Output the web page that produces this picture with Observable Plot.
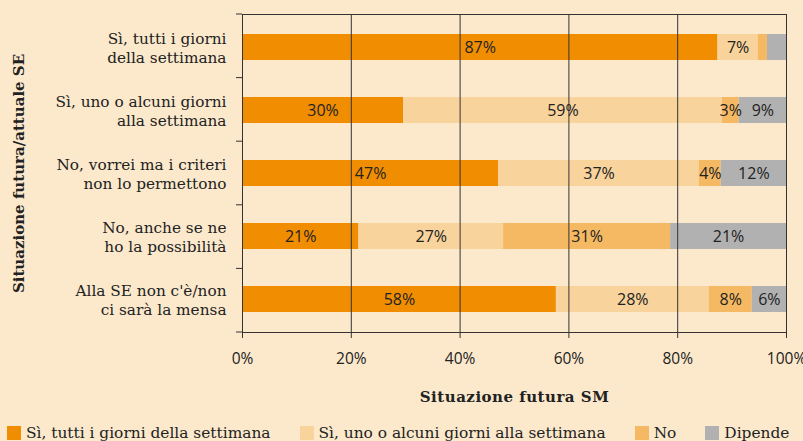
<!DOCTYPE html>
<html><head><meta charset="utf-8">
<script src="https://cdn.jsdelivr.net/npm/d3@7"></script>
<script src="https://cdn.jsdelivr.net/npm/@observablehq/plot@0.6"></script>
<style>
body{margin:0;background:#fce9cc;width:803px;height:441px;overflow:hidden}
#chart svg{display:block;overflow:visible}
#chart svg [aria-label="x-axis label"] text{font-family:"DejaVu Serif";font-weight:bold;font-size:15px;letter-spacing:0.5px}
#chart svg [aria-label="y-axis label"] text{font-family:"DejaVu Serif";font-weight:bold;font-size:15px}
.legend{display:flex;gap:29px;padding-left:7px;padding-top:6px;font-family:"DejaVu Serif";font-size:15.4px;color:#222;line-height:14px}
.legend .it{display:flex;align-items:center;gap:5px;white-space:nowrap}
.legend .sw{width:14px;height:14px;display:inline-block}
</style></head><body><div id="chart"></div><div class="legend" id="legend"></div>
<script>
const categories = [
  "Sì, tutti i giorni\ndella settimana",
  "Sì, uno o alcuni giorni\nalla settimana",
  "No, vorrei ma i criteri\nnon lo permettono",
  "No, anche se ne\nho la possibilità",
  "Alla SE non c'è/non\nci sarà la mensa"
];
const series = ["Sì, tutti i giorni della settimana", "Sì, uno o alcuni giorni alla settimana", "No", "Dipende"];
const colors = ["#f18d00", "#f8d39b", "#f6b963", "#b1b1b1"];
const tutti   = [87.4, 29.6, 47.1, 21.4, 57.7];
const alcuni  = [7.4, 58.6, 36.9, 26.6, 28.1];
const no      = [1.7, 3.1, 4.0, 30.7, 7.9];
const dipende = [3.5, 8.7, 12.0, 21.3, 6.3];
const labTutti   = ["87%", "30%", "47%", "21%", "58%"];
const labAlcuni  = ["7%", "59%", "37%", "27%", "28%"];
const labNo      = ["", "3%", "4%", "31%", "8%"];
const labDipende = ["", "9%", "12%", "21%", "6%"];
const xTicks = [0, 20, 40, 60, 80, 100];

const vals = [tutti, alcuni, no, dipende];
const labs = [labTutti, labAlcuni, labNo, labDipende];
const data = [];
series.forEach((s, i) => categories.forEach((c, j) => data.push({series: s, cat: c, value: vals[i][j], label: labs[i][j]})));

const plot = Plot.plot({
  width: 803, height: 420,
  marginLeft: 242, marginRight: 17, marginTop: 14, marginBottom: 88,
  style: {background: "transparent", fontFamily: "Open Sans", fontSize: "15px", color: "#222"},
  x: {domain: [0, 100]},
  y: {domain: categories, paddingInner: 0.59, paddingOuter: 0.295},
  color: {domain: series, range: colors},
  marks: [
    Plot.barX(data, {x: "value", y: "cat", fill: "series"}),
    Plot.gridX({ticks: [20, 40, 60, 80], stroke: "#333", strokeOpacity: 1}),
    Plot.frame({stroke: "#333"}),
    Plot.text(data, Plot.stackX({x: "value", y: "cat", z: "series", text: "label", fill: "#222", fontSize: 16, fontFamily: "Open Sans"})),
    Plot.axisX({ticks: xTicks, tickFormat: d => d + "%", tickSize: 6, tickPadding: 14, stroke: "#333", fill: "#222",
      label: "Situazione futura SM", labelArrow: "none", labelAnchor: "center", labelOffset: 69, fontSize: 15.5, fontFamily: "Open Sans"}),
    Plot.axisY({tickSize: 0, tickPadding: 16, fontFamily: "DejaVu Serif", fontSize: 15.3, lineHeight: 1.25, fill: "#222",
      label: "Situazione futura/attuale SE", labelArrow: "none", labelAnchor: "center", labelOffset: 229})
  ]
});
document.getElementById("chart").appendChild(plot);

// boundary ticks on y axis from the plot's own band scale
const ys = plot.scale("y");
const yb = d3.scaleBand().domain(ys.domain).range(ys.range).paddingInner(ys.paddingInner).paddingOuter(ys.paddingOuter);
const half = (yb.step() - yb.bandwidth()) / 2;
const bounds = ys.domain.map(c => yb(c) - half).concat([yb(ys.domain[ys.domain.length - 1]) + yb.bandwidth() + half]);
const xs = plot.scale("x");
const x0 = d3.scaleLinear().domain(xs.domain).range(xs.range)(0);
d3.select(plot).append("g").attr("stroke", "#333")
  .selectAll("line").data(bounds).join("line")
  .attr("x1", x0 - 6).attr("x2", x0).attr("y1", d => d).attr("y2", d => d);

const lg = d3.select("#legend");
series.forEach((s, i) => {
  const it = lg.append("div").attr("class", "it");
  it.append("span").attr("class", "sw").style("background", colors[i]);
  it.append("span").text(s);
});
</script></body></html>
